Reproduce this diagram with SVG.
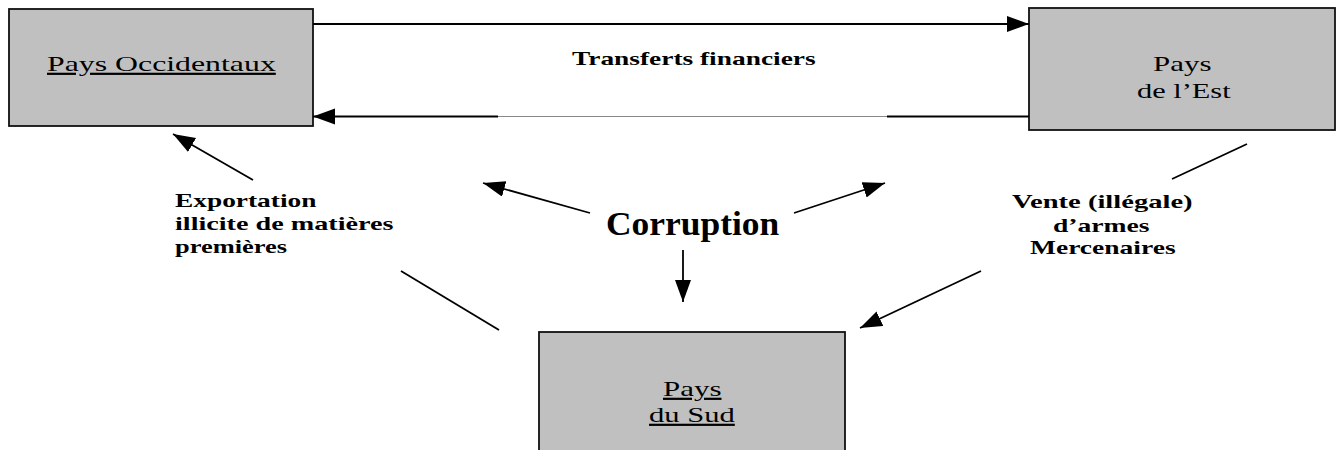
<svg xmlns="http://www.w3.org/2000/svg" width="1341" height="450" viewBox="0 0 1341 450">
<defs>
<marker id="ah" markerUnits="userSpaceOnUse" markerWidth="24" markerHeight="18" refX="22" refY="8" orient="auto">
<path d="M0,0 L22,8 L0,16 Z" fill="#000"/>
</marker>
<style>
.box{fill:#c0c0c0;stroke:#111;stroke-width:1.8}
.t{font-family:"Liberation Serif","Times New Roman",serif;fill:#000}
.r{font-size:22px}
.b{font-size:19px;font-weight:bold}
.u{text-decoration:underline}
.c{stroke:#000;stroke-width:1.8;fill:none}
</style>
</defs>
<rect width="1341" height="450" fill="#fff"/>
<g id="pays-occidentaux">
<rect class="box" x="9" y="9" width="304" height="117"/>
<text class="t r u" transform="translate(47,71) scale(1.3,1)" textLength="176" lengthAdjust="spacingAndGlyphs">Pays Occidentaux</text>
</g>
<g id="pays-est">
<rect class="box" x="1029" y="8" width="306" height="122"/>
<text class="t r" transform="translate(1153,71) scale(1.3,1)" textLength="45" lengthAdjust="spacingAndGlyphs">Pays</text>
<text class="t r" transform="translate(1137,98) scale(1.3,1)" textLength="72" lengthAdjust="spacingAndGlyphs">de l’Est</text>
</g>
<g id="pays-sud">
<rect class="box" x="539" y="332" width="306" height="125"/>
<text class="t r u" transform="translate(663,396) scale(1.3,1)" textLength="45" lengthAdjust="spacingAndGlyphs">Pays</text>
<text class="t r u" transform="translate(649,422) scale(1.3,1)" textLength="66" lengthAdjust="spacingAndGlyphs">du Sud</text>
</g>
<g id="labels">
<text class="t b" transform="translate(572,65) scale(1.4,1)" textLength="174" lengthAdjust="spacingAndGlyphs">Transferts financiers</text>
<text class="t" transform="translate(606,235) scale(1.05,1)" font-size="34" font-weight="bold" textLength="165" lengthAdjust="spacingAndGlyphs">Corruption</text>
<text class="t b" transform="translate(175,207) scale(1.4,1)" textLength="101" lengthAdjust="spacingAndGlyphs">Exportation</text>
<text class="t b" transform="translate(175,230) scale(1.4,1)" textLength="156" lengthAdjust="spacingAndGlyphs">illicite de matières</text>
<text class="t b" transform="translate(175,253) scale(1.4,1)" textLength="80" lengthAdjust="spacingAndGlyphs">premières</text>
<text class="t b" transform="translate(1012,208) scale(1.4,1)" textLength="129" lengthAdjust="spacingAndGlyphs">Vente (illégale)</text>
<text class="t b" transform="translate(1053,232) scale(1.4,1)" textLength="69" lengthAdjust="spacingAndGlyphs">d’armes</text>
<text class="t b" transform="translate(1030,254) scale(1.4,1)" textLength="104" lengthAdjust="spacingAndGlyphs">Mercenaires</text>
</g>
<g id="connectors">
<line class="c" x1="313" y1="24" x2="1029" y2="24" marker-end="url(#ah)"/>
<line class="c" x1="1029" y1="116.5" x2="887" y2="116.5"/>
<line x1="887" y1="116.5" x2="498" y2="116.5" stroke="#888" stroke-width="1"/>
<line class="c" x1="498" y1="116.5" x2="313" y2="116.5" marker-end="url(#ah)"/>
<line class="c" x1="590" y1="213" x2="483" y2="183" marker-end="url(#ah)"/>
<line class="c" x1="794" y1="213" x2="885" y2="183" marker-end="url(#ah)"/>
<line class="c" x1="683" y1="250" x2="683" y2="302" marker-end="url(#ah)"/>
<line class="c" x1="253" y1="180" x2="173" y2="134" marker-end="url(#ah)"/>
<line class="c" x1="401" y1="271" x2="499" y2="330"/>
<line class="c" x1="1247" y1="144" x2="1172" y2="179"/>
<line class="c" x1="981" y1="271" x2="860" y2="328" marker-end="url(#ah)"/>
</g>
</svg>
